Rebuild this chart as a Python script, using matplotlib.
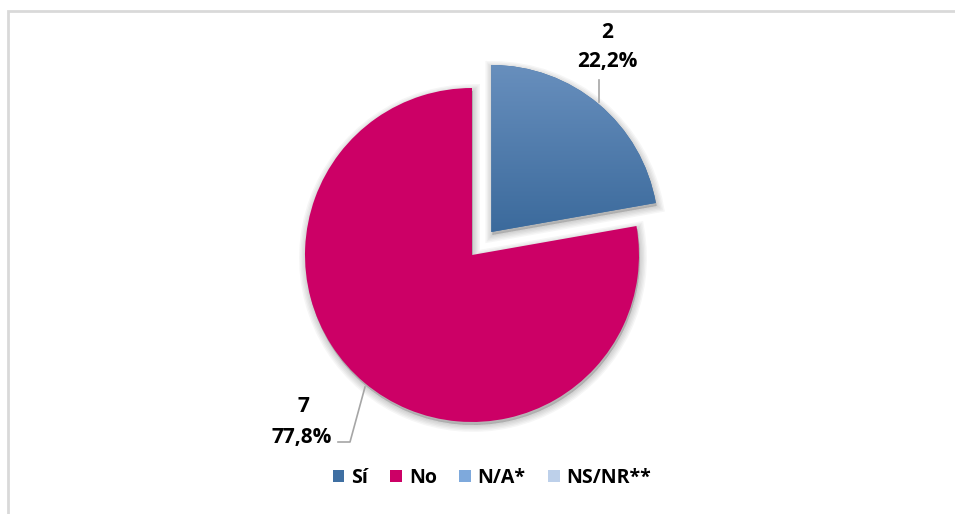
import numpy as np
import matplotlib
matplotlib.use("Agg")
import matplotlib.pyplot as plt
from matplotlib.patches import Wedge, Patch, Rectangle
from matplotlib.colors import LinearSegmentedColormap

plt.rcParams['font.family'] = ['Open Sans', 'DejaVu Sans']

# respuestas
categories = ['Sí', 'No', 'N/A*', 'NS/NR**']
counts = [2, 7, 0, 0]
colors = ['#3f6fa2', '#cc0066', '#7ea9dc', '#bdd0ea']
explode = [0.18, 0, 0, 0]

W, H = 955, 514
fig = plt.figure(figsize=(W / 100, H / 100), dpi=100)
ax = fig.add_axes([0, 0, 1, 1])

# pixel-like coordinates, y measured upward
cx, cy, rad = 472, H - 255, 167

shown = [(c, v, col, e) for c, v, col, e in zip(categories, counts, colors, explode) if v > 0]
# pie() takes explode as an absolute offset, so scale it by the radius
wedges, _ = ax.pie([s[1] for s in shown], colors=[s[2] for s in shown],
                   explode=[s[3] * rad for s in shown], startangle=90, counterclock=False,
                   center=(cx, cy), radius=rad, frame=True,
                   wedgeprops=dict(linewidth=0, zorder=3))

# soft shadow under the slices
for w in wedges:
    x0, y0 = w.center
    for lw in [10, 8, 6, 4, 2]:
        sh = Wedge((x0 + 1, y0 - 3), w.r, w.theta1, w.theta2,
                   facecolor=(0, 0, 0, 0.035), edgecolor=(0, 0, 0, 0.035),
                   linewidth=lw, zorder=2)
        ax.add_patch(sh)

# vertical gradient on the "Sí" slice
w0 = wedges[0]
grad = LinearSegmentedColormap.from_list('g', ['#3a699b', '#6990be'])
yy = np.linspace(0, 1, 256).reshape(-1, 1)
x0, y0 = w0.center
im = ax.imshow(yy, cmap=grad, origin='lower', aspect='auto',
               extent=[x0 - 5, x0 + w0.r + 5, y0 - 5, y0 + w0.r + 5], zorder=4)
im.set_clip_path(w0)

ax.set_xlim(0, W)
ax.set_ylim(0, H)
ax.axis('off')

total = sum(counts)
txt = dict(fontsize=15, fontweight='bold', ha='center', va='center', color='black', zorder=6)
pct = lambda v: f"{100 * v / total:.1f}%".replace('.', ',')

# labels with leader lines
ax.text(607, H - 32, f"{counts[0]}", **txt)
ax.text(607, H - 62, pct(counts[0]), **txt)
ax.plot([599, 599], [H - 80, H - 102], color='#a6a6a6', lw=1.2, zorder=5)

ax.text(303, H - 407, f"{counts[1]}", **txt)
ax.text(302, H - 437, pct(counts[1]), **txt)
ax.plot([338, 350, 365], [H - 442, H - 442, H - 387], color='#a6a6a6', lw=1.2, zorder=5)

# chart border
ax.add_patch(Rectangle((8, -10), W + 10, H - 11 + 10, fill=False,
                       edgecolor='#d9d9d9', lw=2, zorder=1))

handles = [Patch(facecolor=c, edgecolor='none') for c in colors]
fig.legend(handles, categories, loc='center', bbox_to_anchor=(492 / W, 1 - 478 / H),
           ncol=4, frameon=False, handlelength=0.6, handleheight=0.6,
           handletextpad=0.35, columnspacing=1.15,
           prop=dict(size=14, weight='bold'))

fig.savefig('out.png', dpi=100)
